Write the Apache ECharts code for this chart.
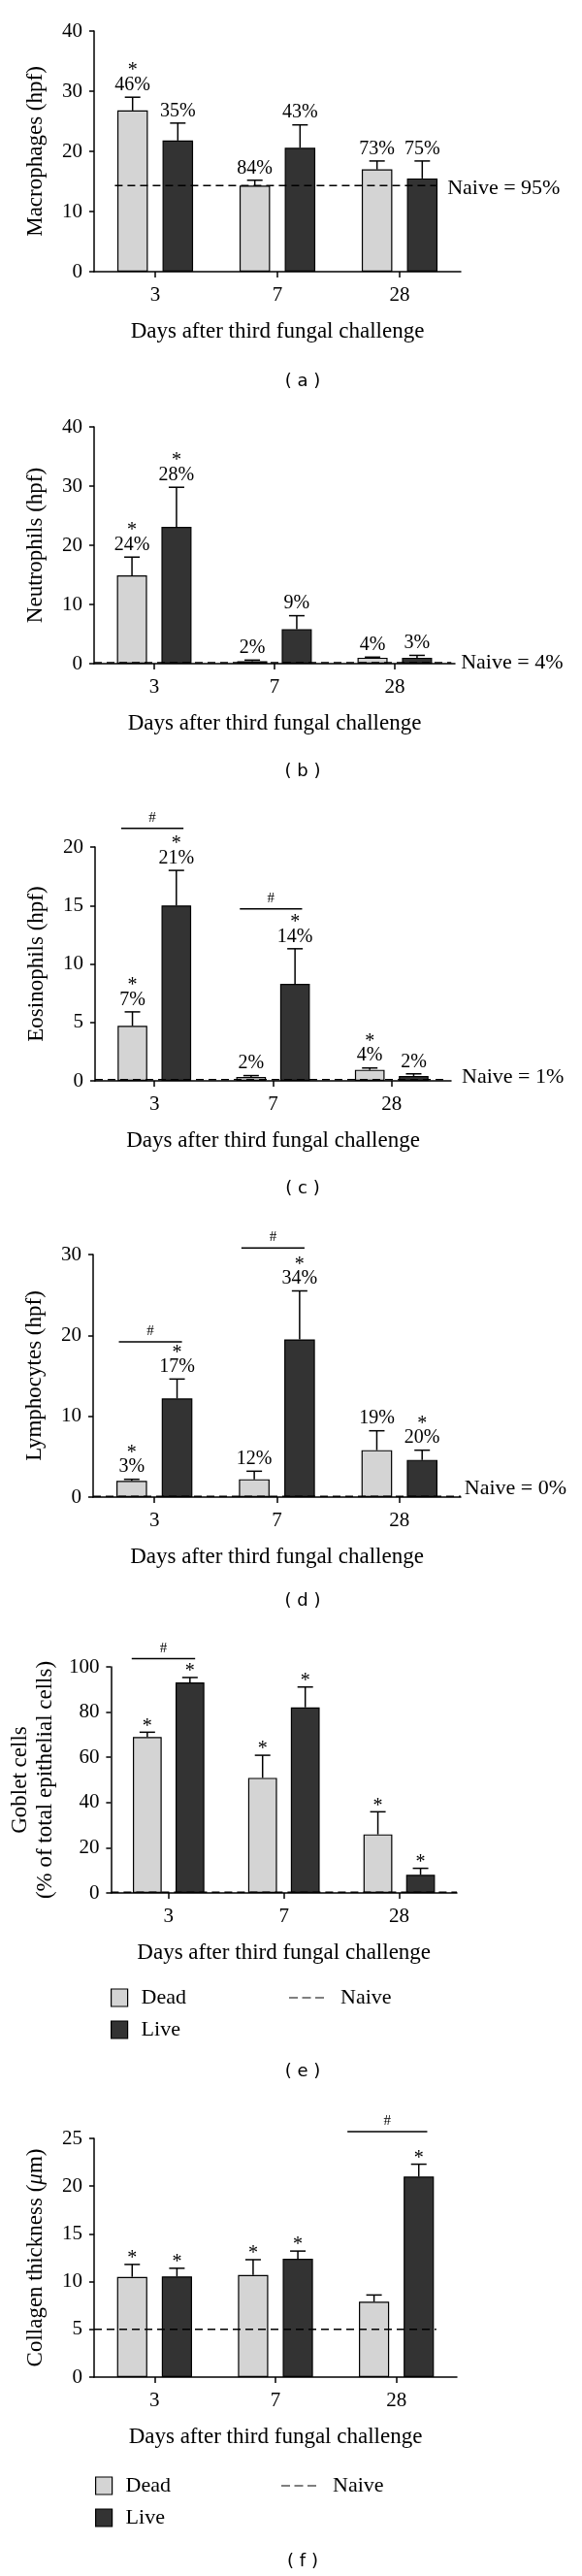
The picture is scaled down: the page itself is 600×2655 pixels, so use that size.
<!DOCTYPE html>
<html><head><meta charset="utf-8">
<script src="https://cdn.jsdelivr.net/npm/echarts@6/dist/echarts.min.js"></script>
<style>html,body{margin:0;padding:0;background:#fff}#c{width:600px;height:2655px}</style>
</head><body><div id="c"></div>
<script>
// ---------------- DATA ----------------
const categories = ['3', '7', '28'];
const xTitle = 'Days after third fungal challenge';
const yMaxes = [40, 40, 20, 30, 100, 25];
const yIntervals = [10, 10, 5, 10, 20, 5];
const yNames = ['Macrophages (hpf)', 'Neutrophils (hpf)', 'Eosinophils (hpf)', 'Lymphocytes (hpf)',
  'Goblet cells\n(% of total epithelial cells)', 'Collagen thickness ({i|\u03bc}m)'];
const panelLabels = ['( a )', '( b )', '( c )', '( d )', '( e )', '( f )'];

// (a) Macrophages
const aDead = [26.8, 14.3, 17.0];
const aDeadErr = [29.0, 15.2, 18.4];
const aLive = [21.8, 20.6, 15.5];
const aLiveErr = [24.7, 24.4, 18.4];
const aNaive = 14.3;
const aDeadPct = ['46%', '84%', '73%'];
const aDeadStar = [1, 0, 0];
const aLivePct = ['35%', '43%', '75%'];
const aLiveStar = [0, 0, 0];
const aNaiveText = 'Naive = 95%';
const aBrackets = [];

// (b) Neutrophils
const bDead = [14.9, 0.4, 1.0];
const bDeadErr = [18.0, 0.6, 1.1];
const bLive = [23.1, 5.8, 1.0];
const bLiveErr = [29.8, 8.1, 1.4];
const bNaive = 0.15;
const bDeadPct = ['24%', '2%', '4%'];
const bDeadStar = [1, 0, 0];
const bLivePct = ['28%', '9%', '3%'];
const bLiveStar = [1, 0, 0];
const bNaiveText = 'Naive = 4%';
const bBrackets = [];

// (c) Eosinophils
const cDead = [4.7, 0.33, 0.94];
const cDeadErr = [5.9, 0.45, 1.1];
const cLive = [15.0, 8.3, 0.42];
const cLiveErr = [18.0, 11.3, 0.6];
const cNaive = 0.1;
const cDeadPct = ['7%', '2%', '4%'];
const cDeadStar = [1, 0, 1];
const cLivePct = ['21%', '14%', '2%'];
const cLiveStar = [1, 1, 0];
const cNaiveText = 'Naive = 1%';
const cBrackets = [[0, 21.6], [1, 14.7]];

// (d) Lymphocytes
const dDead = [2.0, 2.2, 5.8];
const dDeadErr = [2.2, 3.2, 8.2];
const dLive = [12.2, 19.5, 4.6];
const dLiveErr = [14.6, 25.5, 5.8];
const dNaive = 0.1;
const dDeadPct = ['3%', '12%', '19%'];
const dDeadStar = [1, 0, 0];
const dLivePct = ['17%', '34%', '20%'];
const dLiveStar = [1, 1, 1];
const dNaiveText = 'Naive = 0%';
const dBrackets = [[0, 19.2], [1, 30.8]];

// (e) Goblet cells
const eDead = [69.0, 50.9, 25.9];
const eDeadErr = [71.1, 60.9, 35.9];
const eLive = [93.1, 82.1, 8.0];
const eLiveErr = [95.3, 91.1, 10.9];
const eNaive = 0.3;
const eDeadPct = ['', '', ''];
const eDeadStar = [1, 1, 1];
const eLivePct = ['', '', ''];
const eLiveStar = [1, 1, 1];
const eNaiveText = '';
const eBrackets = [[0, 103.6]];

// (f) Collagen thickness
const fDead = [10.5, 10.7, 7.9];
const fDeadErr = [11.8, 12.3, 8.6];
const fLive = [10.55, 12.4, 21.0];
const fLiveErr = [11.4, 13.2, 22.3];
const fNaive = 5.0;
const fDeadPct = ['', '', ''];
const fDeadStar = [1, 1, 0];
const fLivePct = ['', '', ''];
const fLiveStar = [1, 1, 1];
const fNaiveText = '';
const fBrackets = [[2, 25.7]];

// ---------------- LAYOUT / STYLE ----------------
const SERIF = "'Liberation Serif', 'DejaVu Serif', serif";
const SANS = "'DejaVu Sans', 'Liberation Sans', sans-serif";
const LIGHT = '#d4d4d4', DARK = '#333333';
const OFF = 0.185;

const layout = [
  {left: 97, top: 32, width: 378, height: 248, yGap: 47, naive: [-0.33, 2.30], nText: [2.39, 3], br: [-0.29, 0.24], label: 393},
  {left: 97, top: 440, width: 372, height: 244, yGap: 47, naive: [-0.5, 2.47], nText: [2.55, 0], br: [-0.29, 0.24], label: 795},
  {left: 98, top: 873, width: 367, height: 241, yGap: 47, naive: [-0.5, 2.45], nText: [2.59, -3], br: [-0.28, 0.245], label: 1225},
  {left: 96, top: 1293, width: 379, height: 250, yGap: 47, naive: [-0.5, 2.5], nText: [2.53, -8], br: [-0.29, 0.225], label: 1650},
  {left: 113, top: 1718, width: 358, height: 233, yGap: 40, naive: [-0.5, 2.5], nText: [2.5, 0], br: [-0.32, 0.23], label: 2135},
  {left: 97, top: 2204, width: 374, height: 246, yGap: 47, naive: [-0.5, 2.33], nText: [2.5, 0], br: [-0.405, 0.255], label: 2640}
];

const panels = [
  [aDead, aDeadErr, aLive, aLiveErr, aNaive, aDeadPct, aDeadStar, aLivePct, aLiveStar, aNaiveText, aBrackets],
  [bDead, bDeadErr, bLive, bLiveErr, bNaive, bDeadPct, bDeadStar, bLivePct, bLiveStar, bNaiveText, bBrackets],
  [cDead, cDeadErr, cLive, cLiveErr, cNaive, cDeadPct, cDeadStar, cLivePct, cLiveStar, cNaiveText, cBrackets],
  [dDead, dDeadErr, dLive, dLiveErr, dNaive, dDeadPct, dDeadStar, dLivePct, dLiveStar, dNaiveText, dBrackets],
  [eDead, eDeadErr, eLive, eLiveErr, eNaive, eDeadPct, eDeadStar, eLivePct, eLiveStar, eNaiveText, eBrackets],
  [fDead, fDeadErr, fLive, fLiveErr, fNaive, fDeadPct, fDeadStar, fLivePct, fLiveStar, fNaiveText, fBrackets]
].map(a => ({dead: a[0], deadErr: a[1], live: a[2], liveErr: a[3], naive: a[4], deadPct: a[5], deadStar: a[6],
  livePct: a[7], liveStar: a[8], naiveText: a[9], brackets: a[10]}));

function txt(x, y, text, size, family, align, valign) {
  return {type: 'text', x: x, y: y, style: {text: text, fontSize: size, fontFamily: family, fill: '#000',
    align: align || 'center', verticalAlign: valign || 'middle', textAlign: align || 'center', textVerticalAlign: valign || 'middle'}};
}

const option = {animation: false, backgroundColor: '#fff', grid: [], xAxis: [], yAxis: [], series: [], legend: [], graphic: []};

panels.forEach((P, p) => {
  const L = layout[p];
  option.grid.push({left: L.left, top: L.top, width: L.width, height: L.height});
  option.xAxis.push({
    type: 'category', gridIndex: p, data: categories,
    axisLine: {show: true, onZero: false, lineStyle: {color: '#000', width: 1.5}},
    axisTick: {show: true, alignWithLabel: true, length: 6, lineStyle: {color: '#000', width: 1.5}},
    axisLabel: {fontSize: 21, fontFamily: SERIF, color: '#000', margin: 14},
    name: xTitle, nameLocation: 'middle', nameGap: 50,
    nameTextStyle: {fontSize: 23, fontFamily: SERIF, color: '#000'}
  });
  option.xAxis.push({type: 'value', gridIndex: p, min: -0.5, max: 2.5, show: false});
  option.yAxis.push({
    type: 'value', gridIndex: p, min: 0, max: yMaxes[p], interval: yIntervals[p],
    axisLine: {show: true, onZero: false, lineStyle: {color: '#000', width: 1.5}},
    axisTick: {show: true, length: 5, lineStyle: {color: '#000', width: 1.5}},
    splitLine: {show: false},
    axisLabel: {fontSize: 21, fontFamily: SERIF, color: '#000', margin: 12},
    name: yNames[p], nameLocation: 'middle', nameGap: L.yGap,
    nameTextStyle: {fontSize: 23, fontFamily: SERIF, color: '#000', lineHeight: 26,
      rich: {i: {fontSize: 23, fontFamily: SERIF, fontStyle: 'italic', color: '#000'}}}
  });
  const cx = 2 * p, vx = 2 * p + 1;
  option.series.push({type: 'bar', name: 'Dead', xAxisIndex: cx, yAxisIndex: p, data: P.dead,
    barWidth: '25%', barGap: '48%', itemStyle: {color: LIGHT, borderColor: '#000', borderWidth: 1.2}, z: 2});
  option.series.push({type: 'bar', name: 'Live', xAxisIndex: cx, yAxisIndex: p, data: P.live,
    barWidth: '25%', barGap: '48%', itemStyle: {color: DARK, borderColor: '#000', borderWidth: 1.2}, z: 2});
  option.series.push({type: 'line', name: 'Naive', xAxisIndex: vx, yAxisIndex: p, silent: true,
    data: [[L.naive[0], P.naive], [L.naive[1], P.naive]], symbol: 'none', z: 4,
    itemStyle: {color: '#000'},
    lineStyle: {color: '#000', width: 1.5, type: [8, 5]}});

  const errData = [], pcts = [], stars = [];
  categories.forEach((c, i) => { errData.push([i - OFF, P.dead[i], P.deadErr[i]]); pcts.push(P.deadPct[i]); stars.push(P.deadStar[i]); });
  categories.forEach((c, i) => { errData.push([i + OFF, P.live[i], P.liveErr[i]]); pcts.push(P.livePct[i]); stars.push(P.liveStar[i]); });
  option.series.push({
    type: 'custom', xAxisIndex: vx, yAxisIndex: p, data: errData, clip: false, z: 5, silent: true,
    encode: {x: 0, y: [1, 2]},
    renderItem: function (params, api) {
      const i = params.dataIndex;
      const b = api.coord([api.value(0), api.value(1)]);
      const t = api.coord([api.value(0), api.value(2)]);
      const ch = [
        {type: 'line', shape: {x1: t[0], y1: b[1], x2: t[0], y2: t[1]}, style: {stroke: '#000', lineWidth: 1.5}},
        {type: 'line', shape: {x1: t[0] - 8, y1: t[1], x2: t[0] + 8, y2: t[1]}, style: {stroke: '#000', lineWidth: 1.5}}
      ];
      if (pcts[i]) {
        ch.push(txt(t[0], t[1] - 12.5, pcts[i], 20, SERIF));
        if (stars[i]) ch.push(txt(t[0], t[1] - 27, '*', 20, SERIF));
      } else if (stars[i]) {
        ch.push(txt(t[0], t[1] - 6, '*', 20, SERIF));
      }
      return {type: 'group', children: ch};
    }
  });

  if (P.naiveText) {
    option.series.push({
      type: 'custom', xAxisIndex: vx, yAxisIndex: p, data: [[L.nText[0], P.naive]], clip: false, z: 5, silent: true,
      renderItem: function (params, api) {
        const pt = api.coord([api.value(0), api.value(1)]);
        return txt(pt[0], pt[1] + L.nText[1], P.naiveText, 22, SERIF, 'left', 'middle');
      }
    });
  }

  if (P.brackets.length) {
    option.series.push({
      type: 'custom', xAxisIndex: vx, yAxisIndex: p, clip: false, z: 5, silent: true,
      data: P.brackets.map(br => [br[0] + L.br[0], br[0] + L.br[1], br[1]]),
      encode: {x: [0, 1], y: 2},
      renderItem: function (params, api) {
        const p1 = api.coord([api.value(0), api.value(2)]);
        const p2 = api.coord([api.value(1), api.value(2)]);
        return {type: 'group', children: [
          {type: 'line', shape: {x1: p1[0], y1: p1[1], x2: p2[0], y2: p2[1]}, style: {stroke: '#000', lineWidth: 1.5}},
          txt((p1[0] + p2[0]) / 2, p1[1] - 11, '#', 15, SERIF)
        ]};
      }
    });
  }

  option.graphic.push(txt(312, L.label, panelLabels[p], 18, SANS));
});

// legends for panels (e) and (f)
const legendPos = [
  {box: 114, top: 2048, dash: 298, gap: 11},
  {box: 98, top: 2551, dash: 290, gap: 11}
];
legendPos.forEach(lp => {
  option.legend.push({
    data: ['Dead', 'Live'], orient: 'vertical', left: lp.box, top: lp.top, padding: 0,
    itemWidth: 17, itemHeight: 18, itemGap: lp.gap, icon: 'rect', selectedMode: false,
    itemStyle: {borderColor: '#000', borderWidth: 1.2},
    textStyle: {fontSize: 22, fontFamily: SERIF, color: '#000', padding: [0, 0, 0, 9], lineHeight: 18}
  });
  option.legend.push({
    data: [{name: 'Naive', icon: 'path://M0,0H9V1H0ZM13.5,0H22.5V1H13.5ZM27,0H36V1H27Z'}],
    orient: 'vertical', left: lp.dash, top: lp.top, padding: 0,
    itemWidth: 36, itemHeight: 2, selectedMode: false,
    itemStyle: {color: '#000', borderWidth: 0},
    textStyle: {fontSize: 22, fontFamily: SERIF, color: '#000', padding: [0, 0, 0, 12], lineHeight: 18}
  });
});

const chart = echarts.init(document.getElementById('c'), null, {renderer: 'canvas'});
chart.setOption(option);
</script>
</body></html>
